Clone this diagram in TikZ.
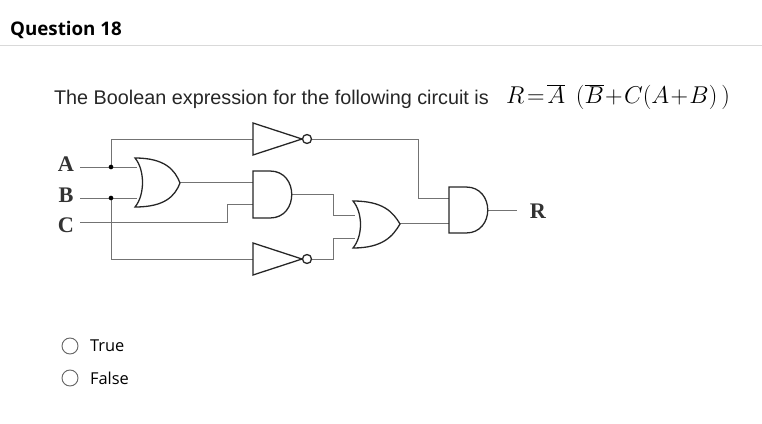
\documentclass[tikz,border=0pt]{standalone}
\usepackage{fontspec}
\setmainfont{Liberation Sans}
\newfontfamily\serif{Liberation Serif}
\newfontfamily\opens{Open Sans}
\begin{document}
\begin{tikzpicture}[x=0.03cm,y=-0.03cm,
  wire/.style={draw=black!55,line width=0.7pt},
  gate/.style={draw=black!85,line width=1.1pt,fill=white},
  lbl/.style={font=\serif\fontsize{19}{19}\selectfont\bfseries,text=black!80},
  dot/.style={circle,fill=black,inner sep=1.4pt}]
\useasboundingbox (0,0) rectangle (762,423);
\node[anchor=west,font=\opens\bfseries\fontsize{16}{16}\selectfont] (q) at (6,30) {Question 18};
\draw[black!15,line width=0.8pt] (0,45) -- (762,45);
\node[anchor=west,font=\fontsize{16.9}{16.9}\selectfont,text=black!85] (t) at (50,99) {The Boolean expression for the following circuit is};
\node[anchor=west,font=\serif\fontsize{21}{21}\selectfont] (f) at (502,97) {$R\!=\!\overline{A}\;\,(\overline{B}\!+\!C\big(A\!+\!B\big)\,)$};
% labels
\node[lbl] (A) at (66,164) {A};
\node[lbl] (B) at (66,195) {B};
\node[lbl] (C) at (66,225) {C};
\node[lbl] (R) at (538,211) {R};
% wires
\draw[wire] (80,167) -- (137,167);
\draw[wire] (80,198) -- (137,198);
\draw[wire] (80,222) -- (227,222) -- (227,204) -- (253,204);
\draw[wire] (111,167) -- (111,139) -- (253,139);
\draw[wire] (111,198) -- (111,259) -- (253,259);
\draw[wire] (180,182) -- (253,182);
\draw[wire] (292,194) -- (333,194) -- (333,215) -- (355,215);
\draw[wire] (311,259) -- (333,259) -- (333,238) -- (355,238);
\draw[wire] (311,139) -- (418,139) -- (418,198) -- (449,198);
\draw[wire] (400,223) -- (449,223);
\draw[wire] (488,210) -- (517,210);
\node[dot] (j1) at (111,167) {};
\node[dot] (j2) at (111,198) {};
% OR1
\draw[gate] (135,158) .. controls (165,158) and (175,170) .. (180,183) .. controls (175,196) and (165,207) .. (135,207) .. controls (145,195) and (145,170) .. (135,158) -- cycle;
% OR2
\draw[gate] (353,201) .. controls (383,201) and (393,212) .. (400,224) .. controls (393,236) and (383,248) .. (353,248) .. controls (363,236) and (363,213) .. (353,201) -- cycle;
% AND1
\draw[gate] (253,171) -- (270,171) .. controls (299,171) and (299,218) .. (270,218) -- (253,218) -- cycle;
% AND2
\draw[gate] (449,187) -- (466,187) .. controls (495,187) and (495,233) .. (466,233) -- (449,233) -- cycle;
% NOTs
\draw[gate] (253,123) -- (302,139) -- (253,155) -- cycle;
\draw[gate] (307,139) circle[radius=4.5];
\draw[gate] (253,243) -- (302,259) -- (253,275) -- cycle;
\draw[gate] (307,259) circle[radius=4.5];
% options
\draw[black!60,line width=0.8pt] (70,346) circle[radius=8];
\draw[black!60,line width=0.8pt] (70,378) circle[radius=8];
\node[anchor=west,font=\opens\fontsize{14}{14}\selectfont] (tr) at (86,346) {True};
\node[anchor=west,font=\opens\fontsize{14}{14}\selectfont] (fa) at (86,378) {False};
\end{tikzpicture}
\end{document}
